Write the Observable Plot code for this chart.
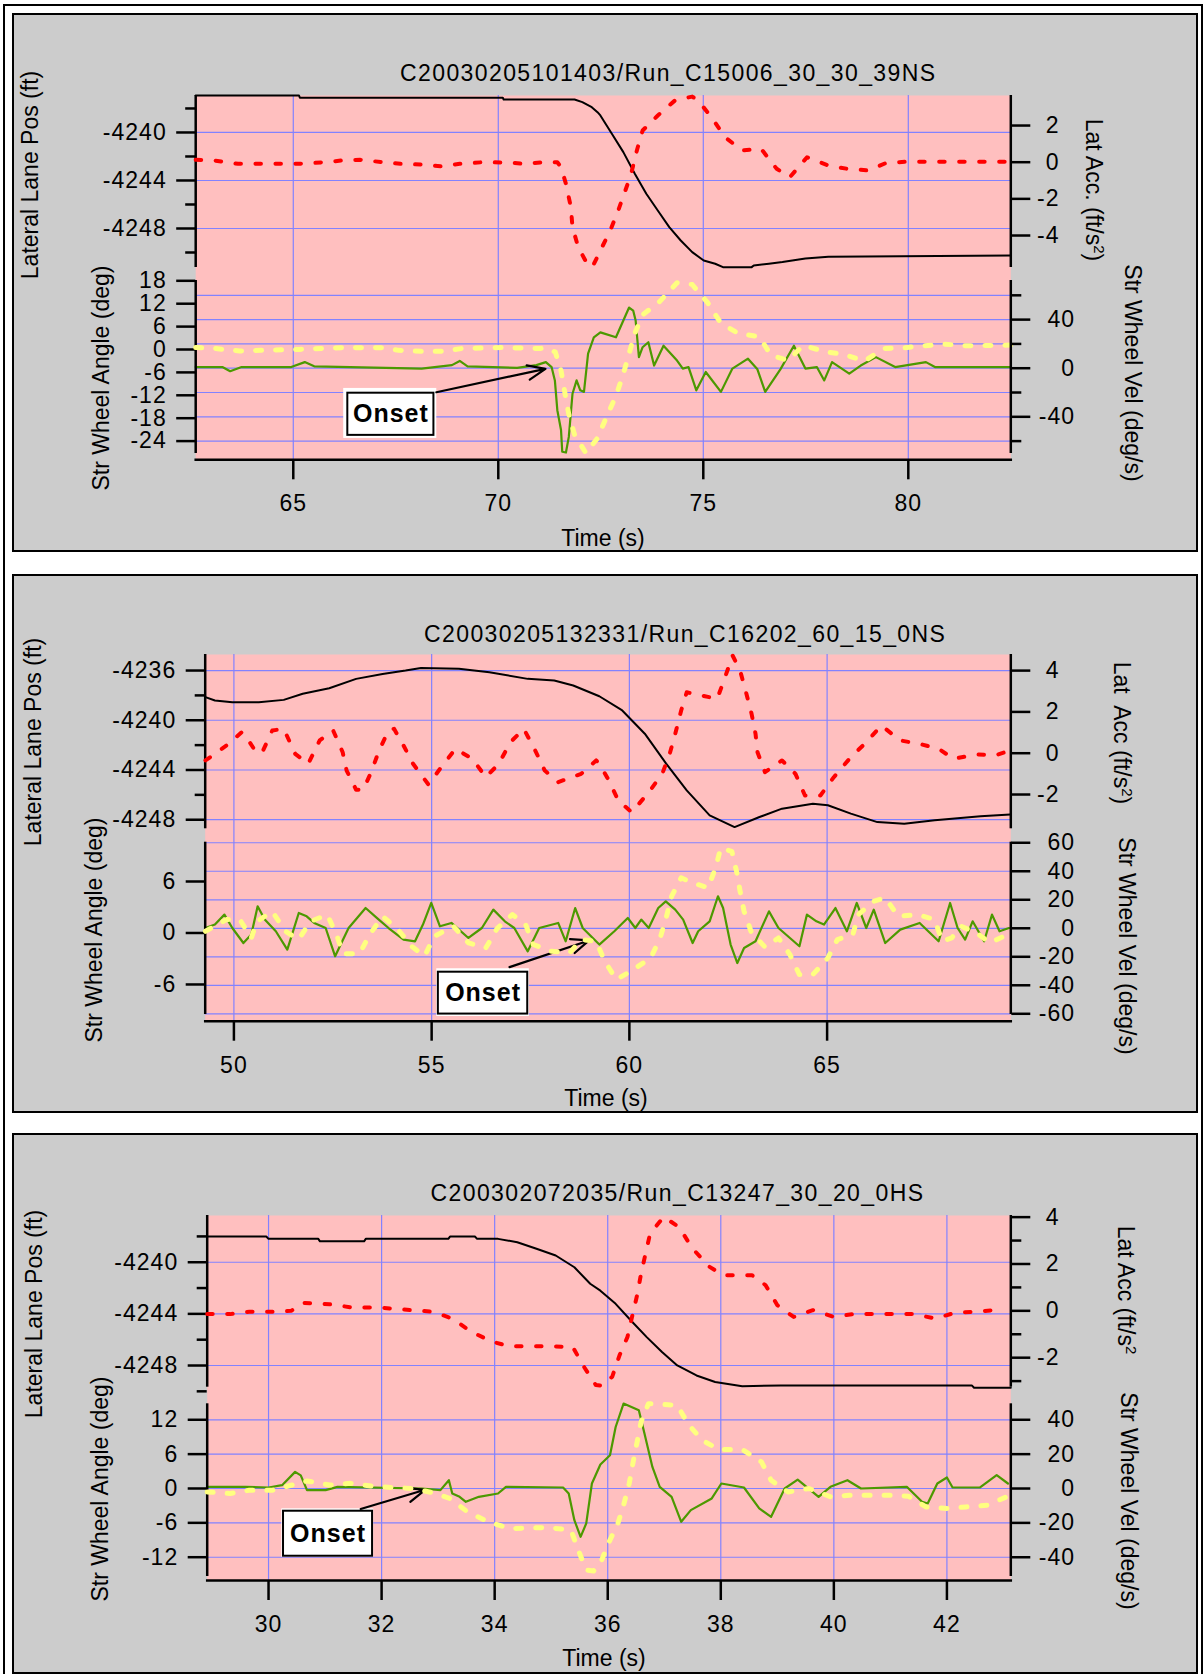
<!DOCTYPE html>
<html><head><meta charset="utf-8">
<script src="https://cdn.jsdelivr.net/npm/d3@7"></script>
<script src="https://cdn.jsdelivr.net/npm/@observablehq/plot@0.6"></script>
<style>
body{margin:0;background:#fff;}
#page{position:relative;width:1204px;height:1674px;overflow:hidden;font-family:"Liberation Sans",Arial,Helvetica,sans-serif;color:#000;}
.ttl{position:absolute;font-size:23px;letter-spacing:1.4px;white-space:nowrap;transform:translateY(-50%);}
.rl{position:absolute;font-size:23px;white-space:nowrap;transform:translate(-50%,-50%) rotate(-90deg);}
.rr{position:absolute;font-size:23px;white-space:nowrap;transform:translate(-50%,-50%) rotate(90deg);}
.tm{position:absolute;font-size:23px;white-space:nowrap;transform:translate(-50%,-50%);}
sup{font-size:15px;}
</style>
</head><body><div id="page"></div>
<script>
// ================= DATA =================
// ---- Panel 1 ----
const p1Title = "C20030205101403/Run_C15006_30_30_39NS";
const p1Lane = [[62.62,-4236.92],[65.14,-4236.92],[65.16,-4237.1],[70.11,-4237.1],[70.13,-4237.25],[71.86,-4237.25],[72.05,-4237.47],[72.28,-4237.89],[72.42,-4238.31],[72.49,-4238.58],[72.77,-4240.11],[73.05,-4241.64],[73.33,-4243.44],[73.61,-4245.11],[73.89,-4246.5],[74.17,-4247.89],[74.45,-4249.0],[74.73,-4249.97],[75.01,-4250.67],[75.29,-4250.94],[75.48,-4251.22],[76.18,-4251.22],[76.23,-4251.08],[76.6,-4250.94],[76.93,-4250.8],[77.49,-4250.5],[78.05,-4250.35],[82.5,-4250.25]];
const p1Acc = [[62.62,0.13],[63.09,0.09],[63.65,-0.09],[64.39,-0.09],[65.14,-0.09],[65.79,0],[66.17,0.09],[66.63,0.13],[67.19,0],[67.61,-0.09],[68.13,-0.13],[68.59,-0.22],[69.06,-0.09],[69.62,0],[70.27,-0.02],[70.65,-0.09],[71.11,0],[71.44,0],[71.53,-0.27],[71.65,-1.18],[71.77,-2.45],[71.81,-3.55],[71.95,-4.64],[72.19,-5.64],[72.3,-5.7],[72.49,-4.82],[72.73,-3.73],[72.91,-2.73],[73.1,-1.54],[73.24,-0.63],[73.38,0.64],[73.52,1.73],[73.89,2.55],[74.31,3.37],[74.73,3.58],[74.87,3.37],[75.2,2.46],[75.53,1.36],[75.95,0.64],[76.41,0.73],[76.79,-0.36],[77.11,-0.82],[77.53,0.27],[78.05,-0.18],[78.51,-0.36],[79.03,-0.45],[79.45,-0.05],[79.96,0.03],[82.5,0.03]];
const p1Ang = [[62.62,-4.6],[63.27,-4.6],[63.46,-5.7],[63.74,-4.6],[64.95,-4.6],[65.28,-3.3],[65.51,-4.4],[68.13,-5.0],[68.87,-4.1],[69.06,-3.0],[69.25,-4.4],[70.46,-4.8],[70.93,-4.1],[71.16,-3.3],[71.3,-4.6],[71.38,-8.1],[71.44,-15.9],[71.53,-21.1],[71.56,-26.8],[71.65,-27.0],[71.72,-22.9],[71.81,-11.6],[71.91,-8.1],[72.0,-10.7],[72.09,-11.1],[72.19,-1.1],[72.33,3.2],[72.49,4.5],[72.87,3.2],[73.05,7.6],[73.19,11.0],[73.29,10.2],[73.35,7.6],[73.43,-2.0],[73.52,0.6],[73.66,1.9],[73.8,-4.2],[74.03,1.0],[74.36,-2.9],[74.5,-5.0],[74.64,-4.6],[74.83,-10.7],[75.06,-5.9],[75.43,-11.1],[75.71,-5.0],[76.09,-2.4],[76.32,-5.2],[76.51,-11.1],[76.88,-5.2],[77.21,1.0],[77.49,-5.0],[77.77,-4.6],[77.95,-8.1],[78.14,-3.3],[78.56,-6.3],[78.84,-4.2],[79.21,-2.0],[79.68,-4.6],[80.43,-3.3],[80.65,-4.6],[82.5,-4.6]];
const p1Vel = [[62.62,17],[63.09,16.2],[63.69,14.2],[64.21,14.7],[65.14,15.5],[66.26,17],[67.19,16.8],[67.57,14.7],[68.13,13.9],[68.59,13.9],[69.11,16.2],[70.11,17],[71.02,16.2],[71.16,17],[71.39,13.3],[71.53,-1.9],[71.63,-21.3],[71.72,-38],[71.86,-54.7],[72.14,-70],[72.42,-57.5],[72.63,-40.8],[72.87,-22.8],[73.05,-4.7],[73.19,12],[73.33,28.7],[73.52,43.9],[73.94,55],[74.36,70.3],[74.73,68.9],[75.11,53.7],[75.43,37],[75.85,28.7],[76.37,25.8],[76.65,10.6],[77.07,6.4],[77.44,18.9],[77.99,13.3],[78.41,11.6],[78.93,5.8],[79.4,16.2],[79.87,16.7],[80.34,18.4],[80.89,19.8],[81.45,18.4],[82.5,19.1]];
const p1XTicks = [65,70,75,80];
const p1LaneTicks = [-4240,-4244,-4248];
const p1LaneMinor = [-4238,-4242,-4246,-4250];
const p1AccTicks = [2,0,-2,-4];
const p1AccMinor = [];
const p1AngTicks = [18,12,6,0,-6,-12,-18,-24];
const p1VelTicks = [40,0,-40];
const p1VelMinor = [60,20,-20,-60];
const p1Onset = {outer:[66.23,68.5,-23.3,-10.2], box:[66.33,68.43,-22.5,-11.45], from:[68.49,-11.2], to:[71.15,-5.06]};

// ---- Panel 2 ----
const p2Title = "C20030205132331/Run_C16202_60_15_0NS";
const p2Lane = [[49.28,-4238.14],[49.52,-4238.41],[49.96,-4238.55],[50.63,-4238.55],[51.26,-4238.36],[51.74,-4237.87],[52.41,-4237.42],[53.09,-4236.67],[53.76,-4236.27],[54.34,-4236.0],[54.73,-4235.79],[55.69,-4235.86],[56.46,-4236.13],[57.43,-4236.67],[58.1,-4236.8],[58.58,-4237.2],[59.24,-4238.07],[59.82,-4239.21],[60.39,-4241.08],[60.93,-4243.49],[61.45,-4245.64],[62.03,-4247.65],[62.66,-4248.59],[63.29,-4247.78],[63.86,-4247.11],[64.64,-4246.71],[65.02,-4246.84],[65.6,-4247.51],[66.27,-4248.19],[66.95,-4248.32],[67.72,-4248.05],[68.88,-4247.73],[69.63,-4247.57]];
const p2Acc = [[49.28,-0.35],[49.81,0.37],[49.96,0.62],[50.2,1.02],[50.34,0.7],[50.58,0],[50.73,0.1],[50.97,1.1],[51.26,1.18],[51.55,-0.03],[51.88,-0.51],[52.17,0.62],[52.51,1.1],[52.75,0.05],[52.85,-0.84],[53.09,-1.77],[53.27,-1.77],[53.47,-0.92],[53.67,0.13],[53.91,1.1],[54.05,1.18],[54.29,0.37],[54.53,-0.51],[54.92,-1.52],[55.21,-0.76],[55.6,0.21],[56.03,-0.27],[56.37,-1.16],[56.7,-0.51],[56.99,0.53],[57.33,1.18],[57.62,0.13],[57.86,-0.84],[58.2,-1.4],[58.78,-1.0],[59.16,-0.35],[59.24,-0.51],[59.48,-1.32],[59.72,-2.29],[60.06,-2.86],[60.49,-1.89],[60.83,-1.0],[61.02,-0.03],[61.16,0.94],[61.31,2.07],[61.45,2.95],[61.84,2.79],[62.22,2.63],[62.42,3.68],[62.61,4.73],[62.8,4.0],[62.95,2.95],[63.09,1.91],[63.19,0.94],[63.24,0.05],[63.43,-0.92],[63.86,-0.35],[64.2,-1.0],[64.44,-2.05],[64.83,-2.05],[65.17,-1.16],[65.6,-0.19],[65.99,0.53],[66.37,1.34],[66.85,0.62],[67.34,0.45],[67.82,0.21],[68.2,-0.27],[68.78,-0.06],[69.26,-0.1],[69.5,0.05]];
const p2Ang = [[49.28,0.58],[49.52,0.98],[49.76,2.14],[49.96,0.58],[50.24,-1.17],[50.44,-0.19],[50.6,3.11],[50.78,1.56],[51.06,0.2],[51.35,-1.94],[51.64,2.33],[51.84,1.94],[52.03,1.17],[52.32,0.58],[52.56,-2.72],[52.7,-1.35],[52.9,0.58],[53.33,2.91],[53.62,1.74],[53.91,0.58],[54.29,-0.77],[54.58,-0.97],[54.78,0.98],[54.99,3.5],[55.21,0.78],[55.5,1.17],[55.93,-0.58],[56.27,0.58],[56.56,2.72],[56.85,1.36],[57.09,0.58],[57.43,-2.14],[57.72,0.58],[58.2,1.17],[58.39,-0.97],[58.63,2.91],[58.82,0.58],[59.24,-1.35],[59.62,0.2],[59.96,1.75],[60.15,0.58],[60.3,1.56],[60.49,0.58],[60.73,2.91],[60.92,3.69],[61.16,2.72],[61.36,1.56],[61.6,-1.17],[61.74,0.2],[62.03,1.36],[62.24,4.28],[62.37,2.91],[62.56,-1.35],[62.73,-3.5],[62.9,-1.75],[63.19,-0.97],[63.53,2.52],[63.77,0.58],[64.06,-0.58],[64.3,-1.55],[64.49,2.14],[64.73,1.36],[64.92,0.98],[65.21,2.91],[65.5,0.2],[65.75,3.5],[65.99,0.58],[66.18,2.72],[66.47,-1.17],[66.85,0.39],[67.34,1.17],[67.82,-0.97],[68.11,3.5],[68.3,0.58],[68.49,-0.77],[68.68,1.36],[68.97,-0.97],[69.17,2.14],[69.36,0.2],[69.6,0.58]];
const p2Vel = [[49.28,-2.1],[49.81,6.1],[50.15,6.1],[50.44,-6.8],[50.58,4.7],[50.97,11.9],[51.3,-2.1],[51.64,-7.9],[51.93,4.7],[52.36,9.6],[52.61,-5.6],[52.75,-17.8],[53.18,-17.8],[53.43,-4.5],[53.76,8.4],[54.15,-0.9],[54.49,-12.6],[54.82,-19.6],[55.07,-5.6],[55.55,1.4],[55.93,-10.2],[56.37,-13.8],[56.66,0],[57.04,9.6],[57.38,2.4],[57.57,-11.4],[58.01,-16.1],[58.49,-17.3],[58.78,-7.9],[59.16,-9.1],[59.38,-23.2],[59.67,-36],[60.1,-29],[60.54,-20.8],[60.78,-6.7],[60.93,7.3],[61.07,22.5],[61.31,35.4],[61.6,31.9],[61.99,28.4],[62.18,42.4],[62.31,56.4],[62.59,54],[62.71,40],[62.8,26],[62.9,11.9],[63.09,-3.3],[63.43,-13.1],[63.77,-6.8],[64.06,-18.5],[64.3,-32.5],[64.64,-32.5],[65.02,-20.8],[65.26,-7.9],[65.65,-4.5],[65.79,9.6],[66.18,18.9],[66.47,21.4],[66.8,8.4],[67.29,9.6],[67.72,6.1],[67.91,-9.1],[68.15,-6.8],[68.39,1.4],[68.78,-3.3],[69.12,-10.2],[69.5,-5.2]];
const p2XTicks = [50,55,60,65];
const p2LaneTicks = [-4236,-4240,-4244,-4248];
const p2LaneMinor = [-4238,-4242,-4246];
const p2AccTicks = [4,2,0,-2];
const p2AccMinor = [];
const p2AngTicks = [6,0,-6];
const p2VelTicks = [60,40,20,0,-20,-40,-60];
const p2VelMinor = [];
const p2Onset = {outer:[55.13,57.47,-9.73,-4.17], box:[55.17,57.43,-9.45,-4.57], from:[56.97,-3.98], to:[58.98,-0.87]};

// ---- Panel 3 ----
const p3Title = "C200302072035/Run_C13247_30_20_0HS";
const p3Lane = [[28.915,-4238.01],[29.96,-4238.01],[30.0,-4238.19],[30.88,-4238.19],[30.91,-4238.38],[31.69,-4238.38],[31.72,-4238.19],[33.18,-4238.19],[33.21,-4238.01],[33.65,-4238.01],[33.69,-4238.19],[34.06,-4238.19],[34.4,-4238.45],[34.74,-4238.96],[35.08,-4239.48],[35.41,-4240.39],[35.69,-4241.67],[35.87,-4242.2],[36.14,-4243.22],[36.41,-4244.51],[36.69,-4245.8],[36.96,-4246.96],[37.23,-4247.99],[37.57,-4248.77],[37.9,-4249.28],[38.38,-4249.6],[39.06,-4249.54],[42.44,-4249.54],[42.48,-4249.72],[43.13,-4249.72]];
const p3Acc = [[28.915,-0.14],[29.32,-0.14],[29.66,-0.04],[30.07,-0.04],[30.4,0],[30.61,0.34],[31.08,0.28],[31.49,0.14],[31.96,0.14],[32.37,0.06],[32.91,-0.04],[33.25,-0.33],[33.59,-0.9],[33.96,-1.32],[34.26,-1.51],[34.74,-1.51],[35.38,-1.54],[35.58,-2.39],[35.79,-3.17],[35.9,-3.2],[36.08,-2.81],[36.21,-1.89],[36.35,-1.11],[36.43,-0.26],[36.52,0.67],[36.59,1.59],[36.67,2.45],[36.75,3.3],[36.99,4.01],[37.26,3.58],[37.5,2.66],[37.8,1.88],[38.04,1.52],[38.55,1.52],[38.79,1.1],[39.0,0.24],[39.29,-0.26],[39.63,0.03],[40.0,-0.26],[40.34,-0.14],[40.88,-0.14],[41.42,-0.14],[41.8,-0.33],[42.14,-0.08],[42.48,-0.04],[42.85,0.03],[42.95,0.06]];
const p3Ang = [[28.915,0.29],[29.59,0.29],[30.0,0.17],[30.24,0.58],[30.47,2.9],[30.57,2.3],[30.68,-0.29],[31.01,-0.29],[31.22,0.29],[32.71,0],[33.04,-0.29],[33.19,1.45],[33.25,-0.87],[33.38,-1.45],[33.49,-2.33],[33.72,-1.45],[34.06,-0.87],[34.2,0.29],[35.21,0.17],[35.31,-0.87],[35.41,-5.53],[35.52,-8.44],[35.62,-6.1],[35.72,0.87],[35.87,4.2],[36.04,5.81],[36.14,10.74],[36.28,14.83],[36.55,13.66],[36.65,9.59],[36.79,3.77],[36.92,0.29],[37.13,-1.45],[37.3,-5.82],[37.47,-3.78],[37.84,-1.74],[38.01,0.87],[38.41,0.17],[38.68,-3.49],[38.89,-4.95],[39.13,0],[39.36,1.55],[39.73,-1.45],[39.94,0.29],[40.24,1.45],[40.48,0],[41.29,0.29],[41.56,-2.33],[41.66,-2.62],[41.83,0.87],[42.0,1.92],[42.1,0.17],[42.58,0.17],[42.88,2.33],[43.08,0.87]];
const p3Vel = [[28.915,-2.0],[29.32,-2.9],[29.66,-1.0],[30.07,-1.0],[30.4,1.9],[30.68,4.4],[31.08,2.0],[31.45,3.0],[31.83,1.4],[32.16,0.6],[32.57,0],[32.91,-2.5],[33.21,-5.8],[33.52,-13.6],[33.89,-19.4],[34.26,-23.3],[34.94,-22.7],[35.35,-24.2],[35.48,-35.9],[35.62,-47.5],[35.75,-48],[35.87,-43.6],[36.01,-32],[36.18,-20.3],[36.28,-9.7],[36.38,2.9],[36.45,15.5],[36.52,27.1],[36.59,38.7],[36.72,49.4],[37.23,48.4],[37.43,37.2],[37.67,28.1],[37.97,22.7],[38.38,22.7],[38.72,15.5],[38.89,4.8],[39.19,-2.0],[39.56,0],[39.94,-4.8],[40.27,-3.9],[40.61,-3.9],[41.02,-3.9],[41.32,-4.5],[41.63,-10.7],[42.0,-11.6],[42.34,-10.7],[42.71,-9.7],[43.08,-4.5]];
const p3XTicks = [30,32,34,36,38,40,42];
const p3LaneTicks = [-4240,-4244,-4248];
const p3LaneMinor = [-4238,-4242,-4246,-4250];
const p3AccTicks = [4,2,0,-2];
const p3AccMinor = [3,1,-1,-3];
const p3AngTicks = [12,6,0,-6,-12];
const p3VelTicks = [40,20,0,-20,-40];
const p3VelMinor = [];
const p3Onset = {outer:[30.235,31.86,-12.0,-3.55], box:[30.265,31.84,-11.83,-3.97], from:[31.63,-3.58], to:[32.77,-0.23]};

// axis titles
const laneLabel = "Lateral Lane Pos (ft)";
const angLabel = "Str Wheel Angle (deg)";
const velLabel = "Str Wheel Vel (deg/s)";
const timeLabel = "Time (s)";
const onsetLabel = "Onset";
const accLabels = ["Lat Acc. (ft/s<sup>2</sup>)", "Lat&nbsp; Acc (ft/s<sup>2</sup>)", "Lat Acc (ft/s<sup>2</sup>"];

// ================= LAYOUT (pixels / scale extents) =================
const W = 1204, H = 1674;
const layouts = [
  {box:[12,13,1186,539], L:195.2, R:1010.3, pinkTop:95, axisY:459.3, top:[267,95], bot:[453,280],
   xDom:[62.62,82.5], laneDom:[-4251.25,-4236.92], accDom:[-5.745,3.639], angDom:[-27.25,18.08], velDom:[-70.2,72.2],
   title:[400,73], yl1:[30,175], yl2:[101,378], yr1:[1094,190], yr2:[1132,373], time:[603,538]},
  {box:[12,574,1186,539], L:204.7, R:1010.3, pinkTop:654, axisY:1020.7, top:[828.3,654], bot:[1014,841.7],
   xDom:[49.274,69.645], laneDom:[-4248.73,-4234.71], accDom:[-3.66,4.78], angDom:[-9.5,10.58], velDom:[-60.5,60.4],
   title:[424,634], yl1:[32.5,742], yl2:[94,930], yr1:[1122,733], yr2:[1126,946], time:[606,1098]},
  {box:[12,1133,1186,541], L:206.7, R:1010.3, pinkTop:1215, axisY:1580, top:[1386.7,1215], bot:[1576,1403.3],
   xDom:[28.915,43.13], laneDom:[-4249.68,-4236.38], accDom:[-3.26,4.07], angDom:[-15.37,14.79], velDom:[-51.2,49.3],
   title:[430.5,1193], yl1:[34,1314], yl2:[99.5,1489], yr1:[1126,1290], yr2:[1128,1501], time:[604,1658]}
];

const panels = [
  {title:p1Title, lane:p1Lane, acc:p1Acc, ang:p1Ang, vel:p1Vel, xTicks:p1XTicks, laneTicks:p1LaneTicks, laneMinor:p1LaneMinor, accTicks:p1AccTicks, accMinor:p1AccMinor, angTicks:p1AngTicks, velTicks:p1VelTicks, velMinor:p1VelMinor, onset:p1Onset, accLabel:accLabels[0]},
  {title:p2Title, lane:p2Lane, acc:p2Acc, ang:p2Ang, vel:p2Vel, xTicks:p2XTicks, laneTicks:p2LaneTicks, laneMinor:p2LaneMinor, accTicks:p2AccTicks, accMinor:p2AccMinor, angTicks:p2AngTicks, velTicks:p2VelTicks, velMinor:p2VelMinor, onset:p2Onset, accLabel:accLabels[1]},
  {title:p3Title, lane:p3Lane, acc:p3Acc, ang:p3Ang, vel:p3Vel, xTicks:p3XTicks, laneTicks:p3LaneTicks, laneMinor:p3LaneMinor, accTicks:p3AccTicks, accMinor:p3AccMinor, angTicks:p3AngTicks, velTicks:p3VelTicks, velMinor:p3VelMinor, onset:p3Onset, accLabel:accLabels[2]}
];

// ================= STYLE =================
const FONT = '"Liberation Sans", Arial, Helvetica, sans-serif';
const GRAY = "#cccccc", PINK = "#ffbfbf", GRID = "#8282ff", RED = "#ff0000", YEL = "#ffff80", GRN = "#4c9900";
const AXW = 2.5;
const fmt = d => String(d);
const X = d => d[0], Y = d => d[1];

const page = document.getElementById("page");
function div(cls, css, html) {
  const e = document.createElement("div");
  if (cls) e.className = cls;
  Object.assign(e.style, css);
  e.innerHTML = html;
  page.appendChild(e);
  return e;
}

// outer frame
div("", {position:"absolute", left:"3px", top:"4px", width:"1200px", height:"1680px", border:"2px solid #000", boxSizing:"border-box"}, "");

function layer(P, yOpts, marks, showX) {
  const svg = Plot.plot({
    width: W, height: H,
    marginLeft: P.L, marginRight: W - P.R, marginTop: P.pinkTop, marginBottom: H - P.axisY,
    x: Object.assign({domain: P.xDom, range: [P.L, P.R]}, showX ? {} : {axis: null}),
    y: yOpts,
    style: {position:"absolute", left:"0px", top:"0px", background:"transparent", overflow:"visible",
            fontFamily: FONT, fontSize:"23px", color:"#000", letterSpacing:"1px", maxWidth:"none"},
    marks
  });
  page.appendChild(svg);
}

panels.forEach((D, i) => {
  const P = layouts[i];
  // panel box
  div("", {position:"absolute", left:P.box[0]+"px", top:P.box[1]+"px", width:P.box[2]+"px", height:P.box[3]+"px",
           background:GRAY, border:"2px solid #000", boxSizing:"border-box"}, "");

  // A: background, lane grid, black line, left top axis, x axis
  layer(P, {domain:P.laneDom, range:P.top}, [
    Plot.frame({fill:PINK, stroke:"none"}),
    Plot.ruleX(D.xTicks, {stroke:GRID, strokeWidth:1.2}),
    Plot.ruleY(D.laneTicks, {stroke:GRID, strokeWidth:1.2}),
    Plot.line(D.lane, {x:X, y:Y, stroke:"#000", strokeWidth:2}),
    Plot.ruleX([P.xDom[0]], {y1:P.laneDom[0], y2:P.laneDom[1], stroke:"#000", strokeWidth:AXW}),
    Plot.axisY(D.laneTicks, {anchor:"left", tickSize:19, tickPadding:10, strokeWidth:AXW, tickFormat:fmt, label:null}),
    Plot.axisY(D.laneMinor, {anchor:"left", tickSize:10, strokeWidth:AXW, tickFormat:() => "", label:null}),
    Plot.axisX(D.xTicks, {anchor:"bottom", tickSize:20, tickPadding:15, strokeWidth:AXW, tickFormat:fmt, label:null}),
    Plot.frame({anchor:"bottom", stroke:"#000", strokeWidth:AXW})
  ], true);

  // B: velocity grid lines
  layer(P, {domain:P.velDom, range:P.bot, axis:null}, [
    Plot.ruleY(D.velTicks.concat(D.velMinor), {stroke:GRID, strokeWidth:1.2})
  ], false);

  // C: lateral acceleration (right top axis)
  const accMarks = [
    Plot.line(D.acc, {x:X, y:Y, stroke:RED, strokeWidth:4, strokeDasharray:"5.5,14.5", strokeLinecap:"round", strokeLinejoin:"round"}),
    Plot.ruleX([P.xDom[1]], {y1:P.accDom[0], y2:P.accDom[1], stroke:"#000", strokeWidth:AXW}),
    Plot.axisY(D.accTicks, {anchor:"right", tickSize:19, tickPadding:29.7, textAnchor:"end", strokeWidth:AXW, tickFormat:fmt, label:null})
  ];
  if (D.accMinor.length) accMarks.push(Plot.axisY(D.accMinor, {anchor:"right", tickSize:10, strokeWidth:AXW, tickFormat:() => "", label:null}));
  layer(P, {domain:P.accDom, range:P.top}, accMarks, false);

  // D: steering wheel angle (left bottom axis) + onset annotation
  const o = D.onset;
  layer(P, {domain:P.angDom, range:P.bot}, [
    Plot.line(D.ang, {x:X, y:Y, stroke:GRN, strokeWidth:2.2, strokeLinejoin:"round"}),
    Plot.ruleX([P.xDom[0]], {y1:P.angDom[0], y2:P.angDom[1], stroke:"#000", strokeWidth:AXW}),
    Plot.axisY(D.angTicks, {anchor:"left", tickSize:19, tickPadding:10, strokeWidth:AXW, tickFormat:fmt, label:null}),
    Plot.rect([o], {x1:d => d.outer[0], x2:d => d.outer[1], y1:d => d.outer[2], y2:d => d.outer[3], fill:"#fff"}),
    Plot.rect([o], {x1:d => d.box[0], x2:d => d.box[1], y1:d => d.box[2], y2:d => d.box[3], fill:"#fff", stroke:"#000", strokeWidth:2}),
    Plot.text([o], {x:d => (d.box[0]+d.box[1])/2, y:d => (d.box[2]+d.box[3])/2, text:() => onsetLabel, fontWeight:"bold", fontSize:25, fill:"#000"}),
    Plot.arrow([o], {x1:d => d.from[0], y1:d => d.from[1], x2:d => d.to[0], y2:d => d.to[1], stroke:"#000", strokeWidth:2.2, headLength:13, headAngle:45})
  ], false);

  // E: steering wheel velocity (right bottom axis)
  const velMarks = [
    Plot.line(D.vel, {x:X, y:Y, stroke:YEL, strokeWidth:5, strokeDasharray:"6,14", strokeLinecap:"round", strokeLinejoin:"round"}),
    Plot.ruleX([P.xDom[1]], {y1:P.velDom[0], y2:P.velDom[1], stroke:"#000", strokeWidth:AXW}),
    Plot.axisY(D.velTicks, {anchor:"right", tickSize:19, tickPadding:45.3, textAnchor:"end", strokeWidth:AXW, tickFormat:fmt, label:null})
  ];
  if (D.velMinor.length) velMarks.push(Plot.axisY(D.velMinor, {anchor:"right", tickSize:10, strokeWidth:AXW, tickFormat:() => "", label:null}));
  layer(P, {domain:P.velDom, range:P.bot}, velMarks, false);

  // texts
  div("ttl", {left:P.title[0]+"px", top:P.title[1]+"px"}, D.title);
  div("rl", {left:P.yl1[0]+"px", top:P.yl1[1]+"px"}, laneLabel);
  div("rl", {left:P.yl2[0]+"px", top:P.yl2[1]+"px"}, angLabel);
  div("rr", {left:P.yr1[0]+"px", top:P.yr1[1]+"px"}, D.accLabel);
  div("rr", {left:P.yr2[0]+"px", top:P.yr2[1]+"px"}, velLabel);
  div("tm", {left:P.time[0]+"px", top:P.time[1]+"px"}, timeLabel);
});
</script>
</body></html>
